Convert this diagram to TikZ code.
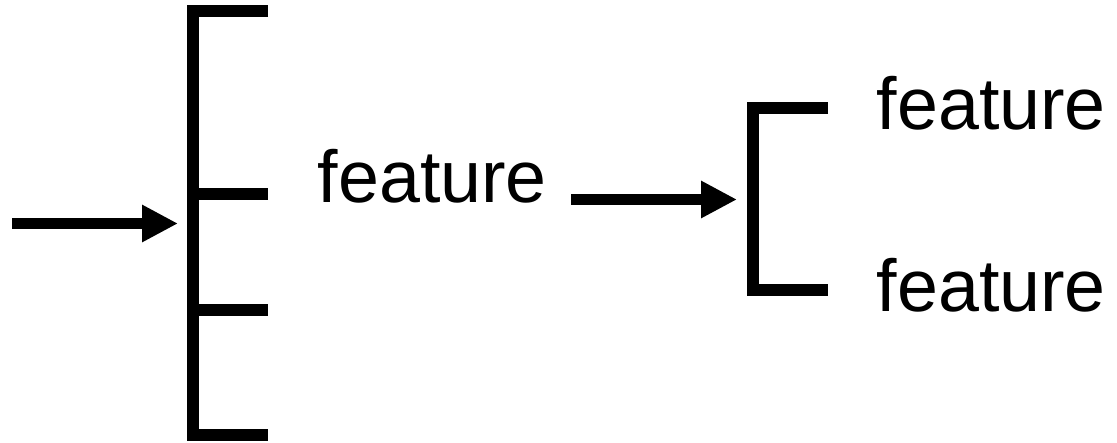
\documentclass[tikz,border=0pt]{standalone}
\usepackage{fontspec}
\setmainfont{Liberation Sans}
\usetikzlibrary{arrows.meta}
\begin{document}
\begin{tikzpicture}[x=1pt,y=-1pt,
  bracket/.style={line width=12pt, line join=miter, line cap=butt},
  flow/.style={line width=11pt, -{Triangle[length=36pt,width=35pt]}},
  label/.style={anchor=base west, inner sep=0pt, font=\fontsize{73.6}{88}\selectfont}]
\useasboundingbox (0,0) rectangle (1117,443);
% big bracket
\coordinate (b1t) at (268,11.5);
\coordinate (b1tc) at (193,11.5);
\coordinate (b1bc) at (193,435.5);
\coordinate (b1b) at (268,435.5);
\coordinate (b1m1) at (193,194.5);
\coordinate (b1m1e) at (268,194.5);
\coordinate (b1m2) at (193,310);
\coordinate (b1m2e) at (268,310);
\draw[bracket] (b1t) -- (b1tc) -- (b1bc) -- (b1b);
\draw[bracket] (b1m1) -- (b1m1e);
\draw[bracket] (b1m2) -- (b1m2e);
% small bracket
\coordinate (b2t) at (828,108.5);
\coordinate (b2tc) at (753,108.5);
\coordinate (b2bc) at (753,290);
\coordinate (b2b) at (828,290);
\draw[bracket] (b2t) -- (b2tc) -- (b2bc) -- (b2b);
% texts
\node[label] (f1) at (317.5,203) {feature};
\node[label] (f2) at (876.5,130) {feature};
\node[label] (f3) at (876.5,312) {feature};
% arrows
\coordinate (a1s) at (12,223.5);
\coordinate (a1e) at (178,223.5);
\draw[flow] (a1s) -- (a1e);
\coordinate (a2s) at (571,199.5);
\coordinate (a2e) at (737,199.5);
\draw[flow] (a2s) -- (a2e);
\end{tikzpicture}
\end{document}
